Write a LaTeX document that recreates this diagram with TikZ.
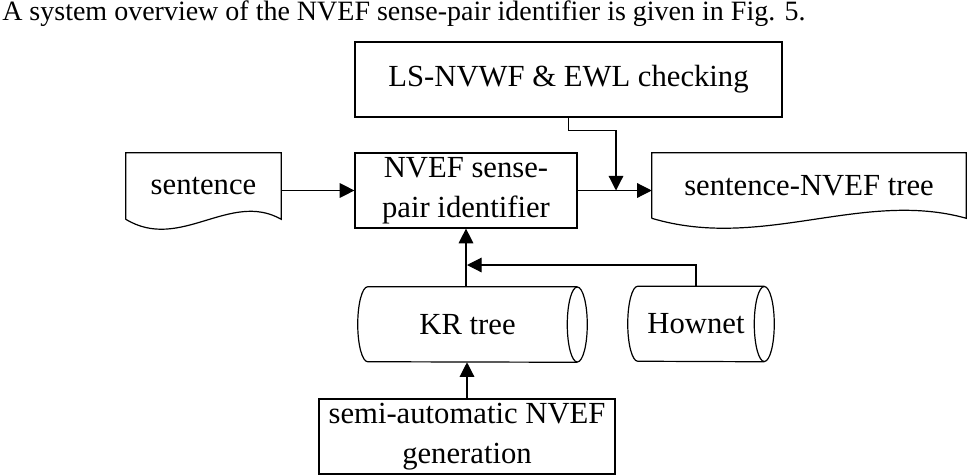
\documentclass[tikz,border=0pt]{standalone}
\usepackage{fontspec}
\setmainfont{Liberation Serif}
\usetikzlibrary{arrows.meta,calc}

\tikzset{
  outline/.style={line width=0.9pt},
  block/.style={draw, outline, inner sep=0pt, align=center, font=\fontsize{23}{30}\selectfont},
  plain/.style={inner sep=0pt, align=center, font=\fontsize{23}{30}\selectfont},
  arr/.style={outline, -{Triangle[length=11pt,width=11pt]}}
}

% document outline with a wavy lower edge
\newcommand\docshape[1]{%
  \draw[outline] (#1.south west) -- (#1.north west) -- (#1.north east) -- (#1.south east)
    .. controls ($(#1.south east)!0.33!(#1.south west)+(0,-29)$)
       and ($(#1.south east)!0.65!(#1.south west)+(0,33)$) .. (#1.south west);}

% lying cylinder: half ellipse at the left, full ellipse at the right
\newcommand\cylshape[1]{%
  \draw[outline] (#1.north east) -- ([xshift=7.5pt]#1.north west)
    arc[start angle=90, end angle=270, x radius=7.5pt, y radius=28.125pt] -- (#1.south east);
  \draw[outline] (#1.east) ellipse[x radius=7.5pt, y radius=28.125pt];}

\begin{document}
\begin{tikzpicture}[x=0.75pt,y=-0.75pt]
\useasboundingbox (0,0) rectangle (967,475);

\node[anchor=base west, inner sep=0pt, font=\fontsize{21}{26}\selectfont] (caption) at (2,20)
  {A system overview of the NVEF sense-pair identifier is given in Fig. 5.};

\node[block, minimum width=320.25pt, minimum height=56.25pt] (checking) at (568.5,79.5) {LS-NVWF \& EWL checking};
\node[block, minimum width=166.5pt, minimum height=56.25pt] (identifier) at (466,190.5) {NVEF sense-\\pair identifier};
\node[block, minimum width=222pt, minimum height=56.25pt] (semiauto) at (467,436.5) {semi-automatic NVEF\\generation};

\node[plain, minimum width=116.25pt, minimum height=49.5pt] (sentence) at (203.5,186) {sentence};
\docshape{sentence}
\node[plain, minimum width=235.5pt, minimum height=48.75pt] (senttree) at (809,185.5) {sentence-NVEF tree};
\docshape{senttree}

\node[plain, minimum width=164.25pt, minimum height=56.25pt] (krtree) at (467.5,324.5) {KR tree};
\cylshape{krtree}
\node[plain, minimum width=102pt, minimum height=56.25pt] (hownet) at (696,324) {Hownet};
\cylshape{hownet}

\coordinate (join) at (616,190.5);
\coordinate (kjoin) at (467,265);

\draw[arr] (identifier.west -| sentence.east) -- (identifier.west);
\draw[arr] (identifier.east) -- (identifier.east -| senttree.west);
\draw[arr] (checking.south) -- ++(0,13) -| (join);
\draw[arr] (identifier.south |- krtree.north) -- (identifier.south);
\draw[arr] (hownet.north) |- (kjoin);
\draw[arr] (semiauto.north) -- (semiauto.north |- krtree.south);
\end{tikzpicture}
\end{document}
